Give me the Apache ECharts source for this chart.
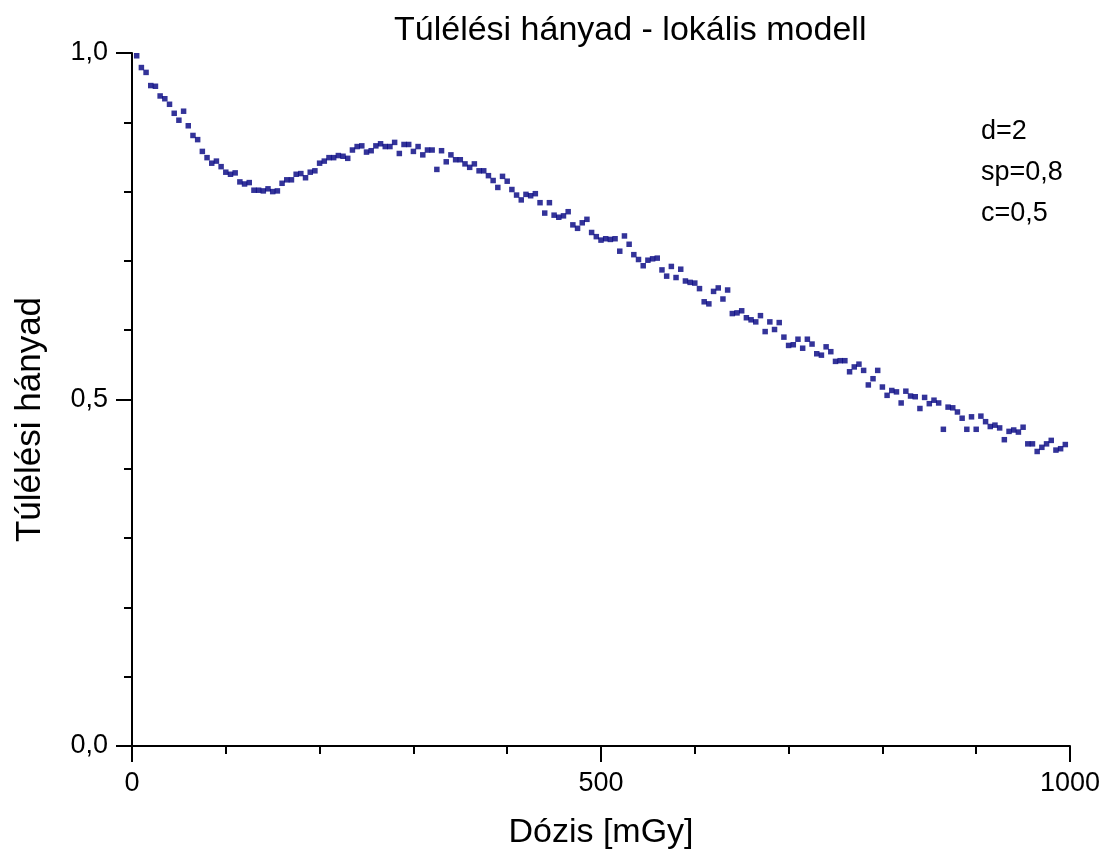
<!DOCTYPE html>
<html>
<head>
<meta charset="utf-8">
<script src="https://cdn.jsdelivr.net/npm/echarts@6/dist/echarts.min.js"></script>
<style>html,body{margin:0;padding:0;background:#fff}#c{width:1106px;height:858px}</style>
</head>
<body>
<div id="c"></div>
<script>
const titleText = 'Túlélési hányad - lokális modell';
const xName = 'Dózis [mGy]';
const yName = 'Túlélési hányad';
const paramLines = ['d=2', 'sp=0,8', 'c=0,5'];
const xTicks = [0, 500, 1000];
const yTicks = [0.0, 0.5, 1.0];

const dose = [5,10,15,20,25,30,35,40,45,50,55,60,65,70,75,80,85,90,95,100,
105,110,115,120,125,130,135,140,145,150,155,160,165,170,175,180,185,190,195,200,
205,210,215,220,225,230,235,240,245,250,255,260,265,270,275,280,285,290,295,300,
305,310,315,320,325,330,335,340,345,350,355,360,365,370,375,380,385,390,395,400,
405,410,415,420,425,430,435,440,445,450,455,460,465,470,475,480,485,490,495,500,
505,510,515,520,525,530,535,540,545,550,555,560,565,570,575,580,585,590,595,600,
605,610,615,620,625,630,635,640,645,650,655,660,665,670,675,680,685,690,695,700,
705,710,715,720,725,730,735,740,745,750,755,760,765,770,775,780,785,790,795,800,
805,810,815,820,825,830,835,840,845,850,855,860,865,870,875,880,885,890,895,900,
905,910,915,920,925,930,935,940,945,950,955,960,965,970,975,980,985,990,995];

const survival = [0.996,0.979,0.972,0.953,0.952,0.938,0.934,0.926,0.913,0.903,
0.916,0.895,0.881,0.875,0.858,0.849,0.841,0.844,0.836,0.828,
0.825,0.827,0.814,0.811,0.813,0.802,0.802,0.801,0.804,0.800,
0.801,0.812,0.817,0.817,0.825,0.826,0.820,0.828,0.830,0.841,
0.844,0.849,0.849,0.852,0.851,0.848,0.860,0.865,0.866,0.857,
0.859,0.866,0.869,0.865,0.865,0.871,0.855,0.868,0.868,0.858,
0.865,0.853,0.860,0.860,0.832,0.859,0.843,0.853,0.846,0.846,
0.840,0.835,0.840,0.830,0.830,0.823,0.816,0.806,0.822,0.815,
0.803,0.795,0.788,0.796,0.794,0.797,0.784,0.769,0.784,0.766,
0.763,0.765,0.771,0.752,0.747,0.755,0.760,0.741,0.735,0.730,
0.732,0.731,0.732,0.714,0.736,0.724,0.709,0.702,0.693,0.701,
0.703,0.704,0.687,0.678,0.692,0.676,0.688,0.671,0.669,0.668,
0.660,0.641,0.638,0.656,0.661,0.645,0.658,0.624,0.625,0.628,
0.618,0.615,0.612,0.621,0.598,0.612,0.601,0.611,0.590,0.578,
0.579,0.587,0.574,0.587,0.580,0.566,0.564,0.576,0.569,0.555,
0.556,0.556,0.540,0.547,0.551,0.542,0.521,0.530,0.542,0.518,
0.506,0.513,0.511,0.495,0.512,0.505,0.504,0.487,0.503,0.494,
0.499,0.495,0.457,0.489,0.488,0.482,0.473,0.457,0.475,0.457,
0.476,0.468,0.461,0.463,0.459,0.442,0.454,0.456,0.453,0.460,
0.436,0.436,0.425,0.431,0.436,0.441,0.427,0.429,0.435];

const FONT = "'Liberation Sans', Arial, sans-serif";
const chart = echarts.init(document.getElementById('c'), null, {renderer: 'canvas'});
const points = dose.map((d, i) => [d, survival[i]]);

chart.setOption({
  animation: false,
  backgroundColor: '#ffffff',
  title: [
    {text: titleText, left: 389, top: 9,
     textStyle: {fontFamily: FONT, fontSize: 34, fontWeight: 'normal', color: '#000'}},
    {text: paramLines.join('\n'), left: 976, top: 106,
     textStyle: {fontFamily: FONT, fontSize: 27, fontWeight: 'normal', color: '#000', lineHeight: 41}}
  ],
  grid: {left: 132, right: 36, top: 53, bottom: 112, containLabel: false},
  xAxis: {
    type: 'value', min: xTicks[0], max: xTicks[xTicks.length - 1], interval: 500,
    name: xName, nameLocation: 'middle', nameGap: 70,
    nameTextStyle: {fontFamily: FONT, fontSize: 34, color: '#000'},
    axisLine: {show: true, onZero: false, lineStyle: {color: '#000', width: 2}},
    axisTick: {show: true, inside: false, length: 16, lineStyle: {color: '#000', width: 2}},
    minorTick: {show: true, splitNumber: 5, length: 8, lineStyle: {color: '#000', width: 2}},
    splitLine: {show: false},
    axisLabel: {fontFamily: FONT, fontSize: 27, color: '#000', margin: 24,
                formatter: v => String(v)}
  },
  yAxis: {
    type: 'value', min: yTicks[0], max: yTicks[yTicks.length - 1], interval: 0.5,
    name: yName, nameLocation: 'middle', nameGap: 84,
    nameTextStyle: {fontFamily: FONT, fontSize: 35, color: '#000', padding: [0, 40, 0, 0]},
    axisLine: {show: true, onZero: false, lineStyle: {color: '#000', width: 2}},
    axisTick: {show: true, inside: false, length: 16, lineStyle: {color: '#000', width: 2}},
    minorTick: {show: true, splitNumber: 5, length: 8, lineStyle: {color: '#000', width: 2}},
    splitLine: {show: false},
    axisLabel: {fontFamily: FONT, fontSize: 27, color: '#000', margin: 24,
                formatter: v => v.toFixed(1).replace('.', ',')}
  },
  series: [{
    type: 'scatter', data: points, symbol: 'rect', symbolSize: 5.5,
    itemStyle: {color: '#000080'}
  }]
});
</script>
</body>
</html>
